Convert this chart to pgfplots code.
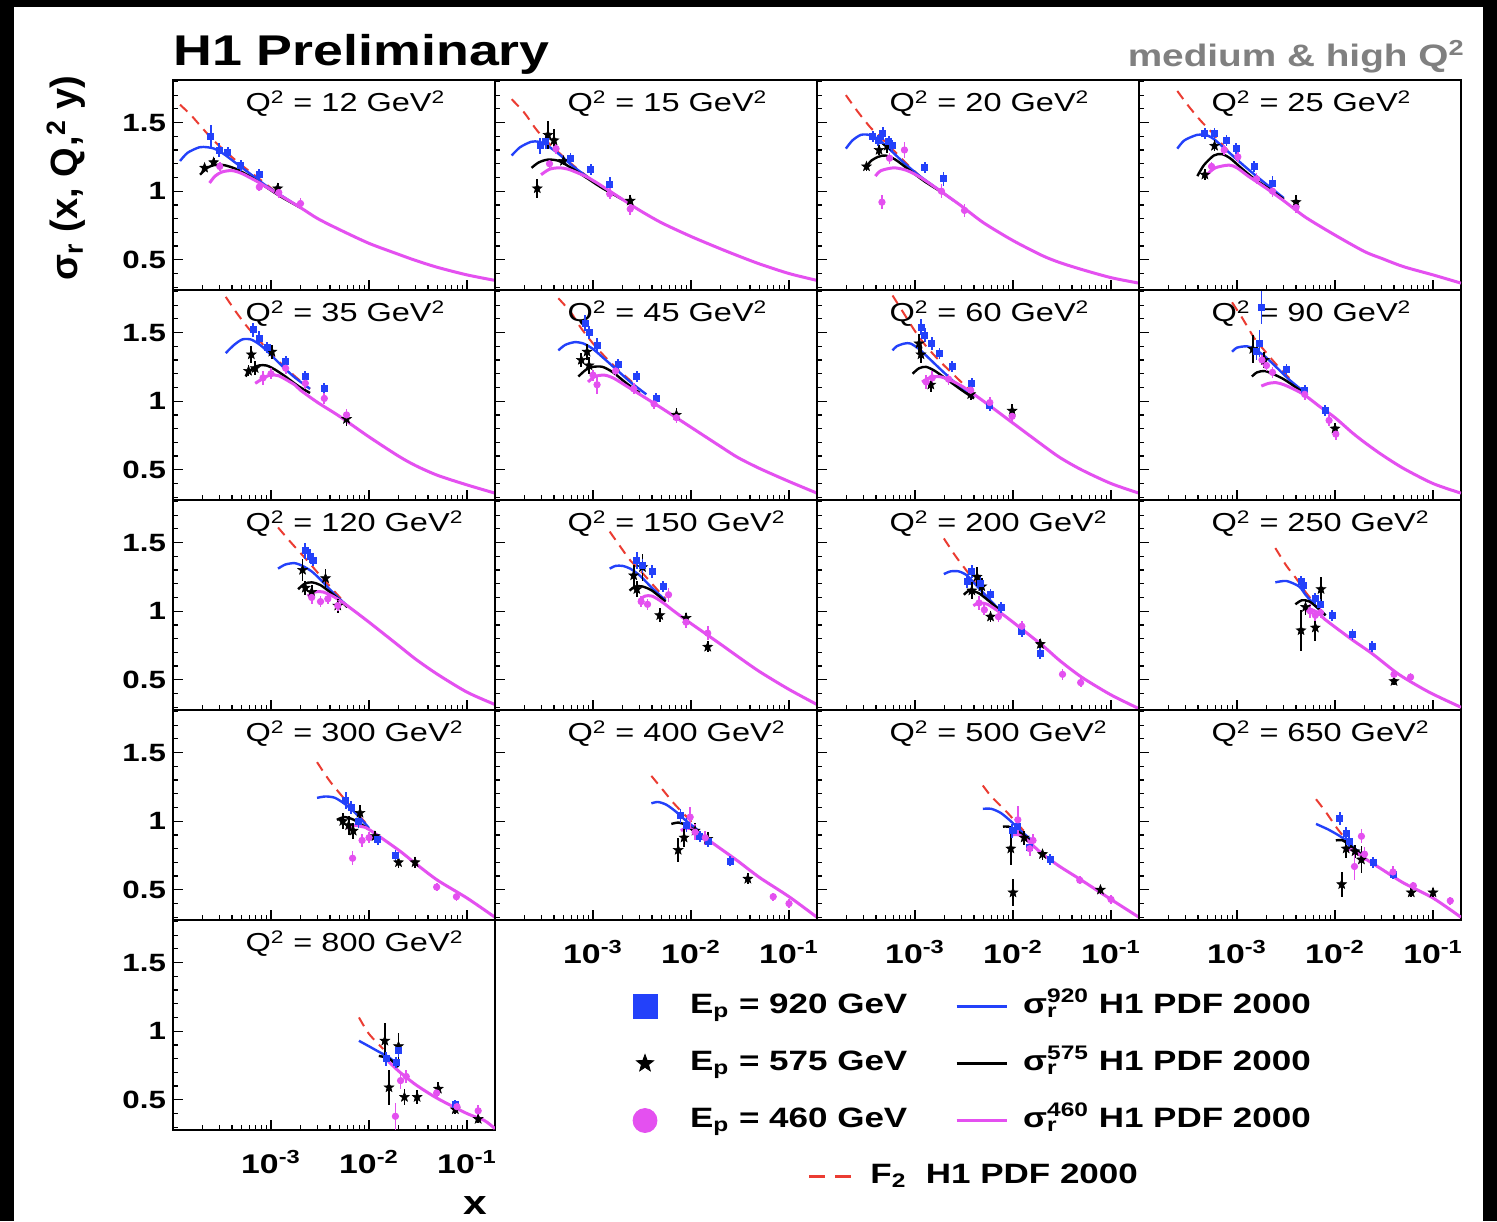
\documentclass[border=0pt]{standalone}
\usepackage{fontspec}
\setmainfont{Liberation Sans}[FakeStretch=1.25]
\newfontfamily\plainsans{Liberation Sans}
\usepackage{pgfplots}
\pgfplotsset{compat=1.18}

\definecolor{myblue}{RGB}{35,65,250}
\definecolor{mymag}{RGB}{228,80,240}
\definecolor{f2red}{RGB}{235,60,50}
\definecolor{titlegrey}{RGB}{128,128,128}

\newcommand{\tlfont}{\bfseries\fontsize{12.5}{14}\selectfont}
\newcommand{\xtlfont}{\bfseries\fontsize{13.5}{15}\selectfont}
\newcommand{\ptfont}{\fontsize{13}{15}\selectfont}
\newcommand{\ptitle}[1]{\node[anchor=base west, font=\ptfont, inner sep=0pt] at (rel axis cs:0.224,0.848) {Q\textsuperscript{2} = #1 GeV\textsuperscript{2}};}

\pgfdeclareplotmark{fstar}{%
  \pgfpathmoveto{\pgfpointpolar{90}{\pgfplotmarksize}}%
  \pgfpathlineto{\pgfpointpolar{126}{0.42\pgfplotmarksize}}%
  \pgfpathlineto{\pgfpointpolar{162}{\pgfplotmarksize}}%
  \pgfpathlineto{\pgfpointpolar{198}{0.42\pgfplotmarksize}}%
  \pgfpathlineto{\pgfpointpolar{234}{\pgfplotmarksize}}%
  \pgfpathlineto{\pgfpointpolar{270}{0.42\pgfplotmarksize}}%
  \pgfpathlineto{\pgfpointpolar{306}{\pgfplotmarksize}}%
  \pgfpathlineto{\pgfpointpolar{342}{0.42\pgfplotmarksize}}%
  \pgfpathlineto{\pgfpointpolar{18}{\pgfplotmarksize}}%
  \pgfpathlineto{\pgfpointpolar{54}{0.42\pgfplotmarksize}}%
  \pgfpathclose
  \pgfusepathqfillstroke
}

\newcommand{\bpanel}[3]{\begin{axis}[
    xmode=log, xmin=1e-4, xmax=0.193, ymin=0.28, ymax=1.81,
    width=161pt, height=105pt, scale only axis, anchor=north west,
    at={(#1)},
    axis line style={line width=1pt},
    tick style={line width=0.6pt, black},
    major tick length=5pt, minor tick length=2.5pt,
    xtick pos=left, ytick pos=left,
    ytick={0.5,1,1.5},
    minor ytick={0.3,0.4,0.6,0.7,0.8,0.9,1.1,1.2,1.3,1.4,1.6,1.7,1.8},
    xtick={1e-4,1e-3,1e-2,1e-1},
    minor xtick={2e-4,3e-4,4e-4,5e-4,6e-4,7e-4,8e-4,9e-4,2e-3,3e-3,4e-3,5e-3,6e-3,7e-3,8e-3,9e-3,0.02,0.03,0.04,0.05,0.06,0.07,0.08,0.09},
    yticklabels={#2},
    xticklabels={#3},
    yticklabel style={font=\tlfont},
    xticklabel style={font=\xtlfont, yshift=-6.5pt},
  ]}

\newcommand{\pF}{\addplot[no markers, smooth, tension=0.45, color=f2red, line width=1pt, dash pattern=on 5pt off 3.5pt] coordinates}
\newcommand{\pB}{\addplot[no markers, smooth, tension=0.45, color=myblue, line width=1.2pt] coordinates}
\newcommand{\pK}{\addplot[no markers, smooth, tension=0.45, color=black, line width=1.2pt] coordinates}
\newcommand{\pM}{\addplot[no markers, smooth, tension=0.45, color=mymag, line width=1.5pt] coordinates}
\newcommand{\dB}{\addplot[only marks, mark=square*, mark size=1.5pt, color=myblue,
    error bars/y dir=both, error bars/y explicit, error bars/error mark=none,
    error bars/error bar style={line width=0.9pt, myblue}] coordinates}
\newcommand{\dK}{\addplot[only marks, mark=fstar, mark size=2.5pt, color=black, mark options={line width=0.3pt},
    error bars/y dir=both, error bars/y explicit, error bars/error mark=none,
    error bars/error bar style={line width=0.9pt, black}] coordinates}
\newcommand{\dM}{\addplot[only marks, mark=*, mark size=1.6pt, color=mymag,
    error bars/y dir=both, error bars/y explicit, error bars/error mark=none,
    error bars/error bar style={line width=0.9pt, mymag}] coordinates}

\begin{document}
\begin{tikzpicture}
\fill[black] (0pt,0pt) rectangle (748.5pt,-610.5pt);
\fill[white] (7pt,-3.5pt) rectangle (741.5pt,-610.5pt);

\node[anchor=base west, font=\bfseries\fontsize{21.5}{24}\selectfont, inner sep=0pt] at (86.5pt,-32.5pt) {H1 Preliminary};
\node[anchor=base east, text=titlegrey, font=\bfseries\fontsize{15.5}{18}\selectfont, inner sep=0pt] at (732.5pt,-33pt) {medium \& high Q\textsuperscript{2}};
\node[rotate=90, font=\plainsans\bfseries\fontsize{19}{21}\selectfont, inner sep=0pt] at (33pt,-89pt) {σ\textsubscript{r} (x, Q\kern1pt,\textsuperscript{2} y)};
\node[anchor=base, font=\bfseries\fontsize{17}{18}\selectfont, inner sep=0pt] at (237.5pt,-607pt) {x};

% ---------------- Row 1 ----------------
\bpanel{86.5pt,-40pt}{0.5,1,1.5}{,,,}
\pF {(1.18e-4,1.63) (1.5e-4,1.56) (1.78e-4,1.50) (2.51e-4,1.38) (3.55e-4,1.28) (5.0e-4,1.19) (7.9e-4,1.08) (1.1e-3,1.0)};
\pB {(1.18e-4,1.22) (1.41e-4,1.28) (1.86e-4,1.32) (2.24e-4,1.32) (2.63e-4,1.31) (3.31e-4,1.27) (4.47e-4,1.20) (6.31e-4,1.12) (8.9e-4,1.04) (1.26e-3,0.97) (2e-3,0.88)};
\pK {(1.89e-4,1.12) (2.24e-4,1.17) (2.63e-4,1.19) (3.31e-4,1.19) (4.47e-4,1.16) (6.31e-4,1.10) (8.9e-4,1.03) (1.26e-3,0.96) (2e-3,0.88)};
\pM {(2.36e-4,1.06) (2.69e-4,1.11) (3.16e-4,1.14) (3.98e-4,1.15) (5.0e-4,1.13) (7.24e-4,1.07) (1e-3,1.01) (2e-3,0.88) (3e-3,0.80) (5e-3,0.72) (0.01,0.62) (0.02,0.54) (0.03,0.495) (0.05,0.445) (0.1,0.39) (0.193,0.35)};
\ptitle{12}
\dK {(2.1e-4,1.17) +- (0,0.03) (2.6e-4,1.21) +- (0,0.03) (1.17e-3,1.02) +- (0,0.04)};
\dB {(2.43e-4,1.40) +- (0,0.08) (2.95e-4,1.30) +- (0,0.05) (3.63e-4,1.28) +- (0,0.04) (4.9e-4,1.19) +- (0,0.04) (7.6e-4,1.12) +- (0,0.04)};
\dM {(3.0e-4,1.18) +- (0,0.03) (7.6e-4,1.03) +- (0,0.03) (1.2e-3,0.99) +- (0,0.04) (2.0e-3,0.91) +- (0,0.04)};
\end{axis}

\bpanel{247.5pt,-40pt}{,,}{,,,}
\pF {(1.48e-4,1.67) (2.0e-4,1.57) (2.57e-4,1.46) (3.2e-4,1.38) (4.2e-4,1.30) (6e-4,1.20) (9e-4,1.10)};
\pB {(1.48e-4,1.26) (1.8e-4,1.32) (2.34e-4,1.36) (2.8e-4,1.36) (3.3e-4,1.34) (4.5e-4,1.27) (6.3e-4,1.18) (8.9e-4,1.10) (1.26e-3,1.03) (2e-3,0.94)};
\pK {(2.36e-4,1.17) (2.8e-4,1.21) (3.47e-4,1.23) (4.5e-4,1.22) (6.3e-4,1.16) (8.9e-4,1.09) (1.26e-3,1.02) (2e-3,0.94)};
\pM {(2.95e-4,1.12) (3.6e-4,1.16) (4.47e-4,1.17) (5.6e-4,1.16) (8.3e-4,1.11) (1.1e-3,1.06) (2e-3,0.94) (3e-3,0.86) (5e-3,0.77) (0.01,0.67) (0.02,0.58) (0.03,0.53) (0.05,0.47) (0.1,0.40) (0.193,0.35)};
\ptitle{15}
\dK {(2.7e-4,1.02) +- (0,0.07) (3.47e-4,1.41) +- (0,0.10) (4.0e-4,1.37) +- (0,0.08) (5.0e-4,1.22) +- (0,0.03) (2.4e-3,0.93) +- (0,0.04)};
\dB {(2.9e-4,1.33) +- (0,0.06) (3.3e-4,1.36) +- (0,0.05) (5.9e-4,1.24) +- (0,0.04) (9.5e-4,1.16) +- (0,0.04) (1.48e-3,1.05) +- (0,0.05)};
\dM {(3.6e-4,1.20) +- (0,0.03) (4.2e-4,1.31) +- (0,0.04) (1.48e-3,0.98) +- (0,0.04) (2.4e-3,0.87) +- (0,0.04)};
\end{axis}

\bpanel{408.5pt,-40pt}{,,}{,,,}
\pF {(1.97e-4,1.70) (2.6e-4,1.58) (3.55e-4,1.46) (4.5e-4,1.39) (6e-4,1.30) (8.5e-4,1.19) (1.2e-3,1.09)};
\pB {(1.97e-4,1.31) (2.3e-4,1.37) (2.8e-4,1.41) (3.4e-4,1.41) (4.2e-4,1.38) (5.6e-4,1.30) (7.9e-4,1.20) (1.12e-3,1.11) (1.6e-3,1.03) (2.5e-3,0.93)};
\pK {(3.15e-4,1.17) (3.55e-4,1.22) (4.2e-4,1.25) (5.0e-4,1.26) (6.3e-4,1.23) (8.9e-4,1.15) (1.26e-3,1.07) (2e-3,0.98)};
\pM {(3.94e-4,1.11) (4.5e-4,1.15) (6.0e-4,1.17) (7.5e-4,1.16) (9e-4,1.14) (1.2e-3,1.09) (2e-3,0.98) (3e-3,0.89) (5e-3,0.77) (0.01,0.64) (0.02,0.53) (0.03,0.48) (0.05,0.43) (0.1,0.37) (0.193,0.33)};
\ptitle{20}
\dK {(3.2e-4,1.18) +- (0,0.03) (4.3e-4,1.30) +- (0,0.04) (5.2e-4,1.33) +- (0,0.05)};
\dB {(3.7e-4,1.40) +- (0,0.04) (4.2e-4,1.37) +- (0,0.04) (4.7e-4,1.42) +- (0,0.05) (5.4e-4,1.36) +- (0,0.04) (5.9e-4,1.33) +- (0,0.04) (1.26e-3,1.17) +- (0,0.04) (1.95e-3,1.09) +- (0,0.05)};
\dM {(4.6e-4,0.92) +- (0,0.05) (5.5e-4,1.24) +- (0,0.04) (7.8e-4,1.30) +- (0,0.06) (1.86e-3,1.00) +- (0,0.05) (3.2e-3,0.86) +- (0,0.05)};
\end{axis}

\bpanel{569.5pt,-40pt}{,,}{,,,}
\pF {(2.46e-4,1.73) (3.2e-4,1.62) (4.3e-4,1.51) (5.5e-4,1.43) (7.5e-4,1.32) (1e-3,1.23)};
\pB {(2.46e-4,1.31) (2.9e-4,1.37) (3.9e-4,1.41) (4.8e-4,1.41) (5.8e-4,1.38) (7.5e-4,1.31) (1e-3,1.23) (1.4e-3,1.14) (2e-3,1.05) (3e-3,0.95)};
\pK {(3.94e-4,1.11) (4.6e-4,1.19) (5.8e-4,1.26) (7e-4,1.27) (8.5e-4,1.24) (1.1e-3,1.17) (1.5e-3,1.09) (2.2e-3,1.01) (3e-3,0.94)};
\pM {(4.92e-4,1.12) (6e-4,1.17) (8.3e-4,1.19) (1e-3,1.17) (1.3e-3,1.11) (2e-3,1.02) (3e-3,0.93) (5e-3,0.81) (0.01,0.68) (0.02,0.56) (0.03,0.51) (0.05,0.45) (0.1,0.39) (0.193,0.33)};
\ptitle{25}
\dK {(4.7e-4,1.12) +- (0,0.04) (5.9e-4,1.33) +- (0,0.04) (4e-3,0.92) +- (0,0.05)};
\dB {(4.7e-4,1.42) +- (0,0.04) (5.9e-4,1.42) +- (0,0.04) (7.8e-4,1.37) +- (0,0.04) (9.8e-4,1.31) +- (0,0.04) (1.5e-3,1.18) +- (0,0.04) (2.3e-3,1.06) +- (0,0.05)};
\dM {(5.5e-4,1.18) +- (0,0.03) (7.4e-4,1.30) +- (0,0.04) (1.02e-3,1.25) +- (0,0.04) (1.58e-3,1.09) +- (0,0.04) (2.3e-3,1.00) +- (0,0.04) (4e-3,0.88) +- (0,0.04)};
\end{axis}

% ---------------- Row 2 ----------------
\bpanel{86.5pt,-145pt}{0.5,1,1.5}{,,,}
\pF {(3.45e-4,1.76) (4.5e-4,1.64) (5.9e-4,1.53) (7.5e-4,1.45) (9e-4,1.38) (1.2e-3,1.29) (1.7e-3,1.19) (2.5e-3,1.09)};
\pB {(3.45e-4,1.35) (4.2e-4,1.41) (5.1e-4,1.45) (6.2e-4,1.45) (7.4e-4,1.42) (9e-4,1.37) (1.2e-3,1.28) (1.7e-3,1.18) (2.5e-3,1.09)};
\pK {(5.5e-4,1.18) (6.3e-4,1.23) (7.5e-4,1.26) (9e-4,1.26) (1.1e-3,1.23) (1.4e-3,1.18) (1.9e-3,1.11) (2.5e-3,1.06)};
\pM {(6.9e-4,1.13) (8.5e-4,1.17) (9.8e-4,1.19) (1.2e-3,1.185) (1.74e-3,1.12) (2e-3,1.08) (3e-3,0.99) (5e-3,0.89) (0.01,0.74) (0.02,0.60) (0.03,0.53) (0.05,0.46) (0.1,0.39) (0.193,0.33)};
\ptitle{35}
\dK {(5.9e-4,1.22) +- (0,0.04) (6.3e-4,1.34) +- (0,0.06) (6.9e-4,1.24) +- (0,0.05) (1.02e-3,1.36) +- (0,0.05) (5.9e-3,0.87) +- (0,0.05)};
\dB {(6.6e-4,1.52) +- (0,0.05) (7.6e-4,1.46) +- (0,0.05) (9.1e-4,1.39) +- (0,0.04) (1.41e-3,1.29) +- (0,0.04) (2.24e-3,1.18) +- (0,0.04) (3.5e-3,1.09) +- (0,0.04)};
\dM {(8.3e-4,1.17) +- (0,0.05) (1.0e-3,1.20) +- (0,0.04) (1.41e-3,1.24) +- (0,0.04) (2.24e-3,1.13) +- (0,0.04) (3.5e-3,1.02) +- (0,0.04) (5.9e-3,0.90) +- (0,0.04)};
\end{axis}

\bpanel{247.5pt,-145pt}{,,}{,,,}
\pF {(4.43e-4,1.75) (5.9e-4,1.65) (7.6e-4,1.53) (1e-3,1.42) (1.3e-3,1.33) (1.8e-3,1.23) (2.5e-3,1.14)};
\pB {(4.43e-4,1.37) (5.2e-4,1.41) (6.5e-4,1.43) (8e-4,1.42) (1e-3,1.38) (1.3e-3,1.31) (1.8e-3,1.22) (2.5e-3,1.13) (3.5e-3,1.05)};
\pK {(7.1e-4,1.18) (8.5e-4,1.23) (1e-3,1.25) (1.25e-3,1.25) (1.6e-3,1.21) (2.2e-3,1.13) (3e-3,1.06)};
\pM {(8.9e-4,1.14) (1.05e-3,1.18) (1.3e-3,1.19) (1.6e-3,1.17) (2.2e-3,1.11) (3e-3,1.05) (5e-3,0.95) (0.01,0.81) (0.02,0.67) (0.03,0.59) (0.05,0.51) (0.1,0.415) (0.193,0.33)};
\ptitle{45}
\dK {(7.6e-4,1.30) +- (0,0.05) (8.7e-4,1.36) +- (0,0.06) (9.1e-4,1.26) +- (0,0.06) (7.1e-3,0.90) +- (0,0.05)};
\dB {(8.3e-4,1.57) +- (0,0.06) (9.1e-4,1.50) +- (0,0.05) (1.1e-3,1.41) +- (0,0.05) (1.8e-3,1.27) +- (0,0.04) (2.8e-3,1.18) +- (0,0.04) (4.4e-3,1.02) +- (0,0.04)};
\dM {(1.0e-3,1.19) +- (0,0.04) (1.1e-3,1.12) +- (0,0.07) (1.7e-3,1.22) +- (0,0.04) (2.6e-3,1.09) +- (0,0.04) (4.2e-3,0.98) +- (0,0.04) (7.1e-3,0.88) +- (0,0.04)};
\end{axis}

\bpanel{408.5pt,-145pt}{,,}{,,,}
\pF {(5.9e-4,1.77) (8e-4,1.62) (1e-3,1.51) (1.3e-3,1.40) (1.8e-3,1.29) (2.5e-3,1.19) (3.5e-3,1.09)};
\pB {(5.9e-4,1.37) (6.5e-4,1.40) (7.8e-4,1.42) (9e-4,1.42) (1.1e-3,1.38) (1.4e-3,1.31) (1.9e-3,1.22) (2.8e-3,1.11) (4e-3,1.03)};
\pK {(9.45e-4,1.20) (1.1e-3,1.24) (1.3e-3,1.25) (1.6e-3,1.22) (2.1e-3,1.16) (3e-3,1.08) (4e-3,1.02)};
\pM {(1.18e-3,1.14) (1.4e-3,1.17) (1.7e-3,1.18) (2.1e-3,1.165) (3e-3,1.11) (5e-3,1.00) (0.01,0.84) (0.02,0.68) (0.03,0.59) (0.05,0.50) (0.1,0.40) (0.193,0.33)};
\ptitle{60}
\dK {(1.1e-3,1.42) +- (0,0.07) (1.15e-3,1.34) +- (0,0.06) (1.45e-3,1.12) +- (0,0.05) (3.7e-3,1.05) +- (0,0.04) (9.8e-3,0.93) +- (0,0.05)};
\dB {(1.15e-3,1.54) +- (0,0.06) (1.26e-3,1.48) +- (0,0.05) (1.48e-3,1.42) +- (0,0.05) (1.78e-3,1.35) +- (0,0.04) (2.4e-3,1.25) +- (0,0.04) (3.8e-3,1.13) +- (0,0.04) (5.8e-3,0.97) +- (0,0.04)};
\dM {(1.3e-3,1.14) +- (0,0.05) (1.5e-3,1.17) +- (0,0.05) (2.2e-3,1.16) +- (0,0.04) (3.7e-3,1.08) +- (0,0.04) (5.8e-3,0.99) +- (0,0.04) (9.8e-3,0.89) +- (0,0.05)};
\end{axis}

\bpanel{569.5pt,-145pt}{,,}{,,,}
\pF {(8.9e-4,1.72) (1.1e-3,1.62) (1.26e-3,1.55) (1.5e-3,1.46) (1.9e-3,1.37) (2.5e-3,1.27) (3.5e-3,1.16)};
\pB {(8.9e-4,1.36) (1.0e-3,1.39) (1.26e-3,1.40) (1.5e-3,1.38) (1.9e-3,1.33) (2.5e-3,1.25) (3.5e-3,1.15) (5e-3,1.06)};
\pK {(1.42e-3,1.18) (1.6e-3,1.21) (1.9e-3,1.22) (2.3e-3,1.20) (3e-3,1.16) (4e-3,1.10) (5e-3,1.05)};
\pM {(1.77e-3,1.11) (2.1e-3,1.13) (2.5e-3,1.135) (3e-3,1.12) (4e-3,1.08) (5e-3,1.04) (7e-3,0.96) (0.01,0.88) (0.015,0.77) (0.02,0.70) (0.03,0.61) (0.05,0.51) (0.1,0.40) (0.193,0.33)};
\ptitle{90}
\dK {(1.45e-3,1.38) +- (0,0.10) (1.9e-3,1.30) +- (0,0.06) (1.0e-2,0.80) +- (0,0.04)};
\dB {(1.58e-3,1.36) +- (0,0.06) (1.7e-3,1.42) +- (0,0.10) (1.78e-3,1.68) +- (0,0.12) (3.2e-3,1.23) +- (0,0.04) (4.9e-3,1.08) +- (0,0.04) (7.9e-3,0.93) +- (0,0.04)};
\dM {(1.8e-3,1.30) +- (0,0.04) (2.0e-3,1.26) +- (0,0.04) (2.3e-3,1.21) +- (0,0.04) (4.9e-3,1.05) +- (0,0.04) (8.7e-3,0.86) +- (0,0.04) (1.02e-2,0.76) +- (0,0.04)};
\end{axis}

% ---------------- Row 3 ----------------
\bpanel{86.5pt,-250pt}{0.5,1,1.5}{,,,}
\pF {(1.18e-3,1.61) (1.6e-3,1.50) (2.34e-3,1.37) (3e-3,1.28) (4e-3,1.18) (5.5e-3,1.07)};
\pB {(1.18e-3,1.31) (1.4e-3,1.34) (1.74e-3,1.35) (2.1e-3,1.33) (2.6e-3,1.29) (3.2e-3,1.23) (4.5e-3,1.12) (6e-3,1.04)};
\pK {(1.89e-3,1.16) (2.2e-3,1.20) (2.6e-3,1.21) (3.2e-3,1.19) (4.5e-3,1.11) (6e-3,1.03)};
\pM {(2.36e-3,1.11) (2.8e-3,1.14) (3.4e-3,1.14) (4.5e-3,1.10) (6e-3,1.04) (0.01,0.92) (0.02,0.75) (0.03,0.65) (0.05,0.54) (0.1,0.41) (0.193,0.32)};
\ptitle{120}
\dK {(2.1e-3,1.30) +- (0,0.08) (2.24e-3,1.17) +- (0,0.05) (2.6e-3,1.14) +- (0,0.05) (3.6e-3,1.24) +- (0,0.07) (4.8e-3,1.04) +- (0,0.05)};
\dB {(2.24e-3,1.44) +- (0,0.06) (2.5e-3,1.40) +- (0,0.05) (2.7e-3,1.37) +- (0,0.04)};
\dM {(2.6e-3,1.10) +- (0,0.05) (3.2e-3,1.07) +- (0,0.04) (3.8e-3,1.09) +- (0,0.04) (4.8e-3,1.04) +- (0,0.04)};
\end{axis}

\bpanel{247.5pt,-250pt}{,,}{,,,}
\pF {(1.48e-3,1.58) (1.9e-3,1.47) (2.4e-3,1.37) (3e-3,1.30) (4e-3,1.20) (5.5e-3,1.09)};
\pB {(1.48e-3,1.31) (1.7e-3,1.33) (2.0e-3,1.33) (2.4e-3,1.31) (3e-3,1.26) (4e-3,1.17) (5.5e-3,1.08)};
\pK {(2.36e-3,1.15) (2.7e-3,1.18) (3.2e-3,1.18) (4e-3,1.15) (5.5e-3,1.07)};
\pM {(2.95e-3,1.08) (3.4e-3,1.11) (4e-3,1.11) (5e-3,1.07) (7e-3,0.99) (0.01,0.91) (0.02,0.76) (0.03,0.67) (0.05,0.56) (0.1,0.43) (0.193,0.32)};
\ptitle{150}
\dK {(2.6e-3,1.26) +- (0,0.08) (2.8e-3,1.16) +- (0,0.06) (3.2e-3,1.32) +- (0,0.10) (4.8e-3,0.97) +- (0,0.05) (8.9e-3,0.95) +- (0,0.04) (1.48e-2,0.74) +- (0,0.04)};
\dB {(2.8e-3,1.37) +- (0,0.06) (3.2e-3,1.33) +- (0,0.05) (4e-3,1.29) +- (0,0.05) (5.2e-3,1.18) +- (0,0.04)};
\dM {(3.1e-3,1.07) +- (0,0.04) (3.6e-3,1.05) +- (0,0.04) (5.9e-3,1.12) +- (0,0.05) (8.9e-3,0.92) +- (0,0.04) (1.48e-2,0.84) +- (0,0.05)};
\end{axis}

\bpanel{408.5pt,-250pt}{,,}{,,,}
\pF {(1.97e-3,1.53) (2.6e-3,1.40) (3.4e-3,1.29) (4.2e-3,1.20) (5.5e-3,1.10) (7.5e-3,1.00)};
\pB {(1.97e-3,1.27) (2.3e-3,1.29) (2.8e-3,1.29) (3.4e-3,1.26) (4.2e-3,1.19) (5.5e-3,1.10) (7.5e-3,1.00)};
\pK {(3.15e-3,1.12) (3.6e-3,1.15) (4.5e-3,1.13) (6e-3,1.06) (7.5e-3,1.00)};
\pM {(3.94e-3,1.04) (4.5e-3,1.06) (5.5e-3,1.05) (7.4e-3,0.99) (0.01,0.92) (0.02,0.75) (0.03,0.64) (0.05,0.52) (0.1,0.39) (0.193,0.29)};
\ptitle{200}
\dK {(3.8e-3,1.15) +- (0,0.06) (4.3e-3,1.25) +- (0,0.07) (4.8e-3,1.18) +- (0,0.06) (5.9e-3,0.96) +- (0,0.04) (1.9e-2,0.76) +- (0,0.04)};
\dB {(3.4e-3,1.22) +- (0,0.05) (3.8e-3,1.29) +- (0,0.05) (4.6e-3,1.20) +- (0,0.05) (5.9e-3,1.12) +- (0,0.04) (7.6e-3,1.03) +- (0,0.04) (1.23e-2,0.85) +- (0,0.04) (1.9e-2,0.69) +- (0,0.04)};
\dM {(4.5e-3,1.06) +- (0,0.05) (5.1e-3,1.01) +- (0,0.04) (7.1e-3,0.96) +- (0,0.04) (1.23e-2,0.89) +- (0,0.04) (3.2e-2,0.54) +- (0,0.04) (4.9e-2,0.48) +- (0,0.03)};
\end{axis}

\bpanel{569.5pt,-250pt}{,,}{,,,}
\pF {(2.46e-3,1.46) (3.2e-3,1.33) (4.0e-3,1.24) (5e-3,1.14) (6.3e-3,1.05)};
\pB {(2.46e-3,1.21) (3.2e-3,1.22) (4.3e-3,1.18) (5e-3,1.12) (6.3e-3,1.04) (8e-3,0.97)};
\pK {(3.94e-3,1.05) (4.6e-3,1.08) (5.5e-3,1.07) (7e-3,1.01) (8e-3,0.97)};
\pM {(4.92e-3,1.00) (5.8e-3,1.01) (7e-3,0.98) (7.9e-3,0.94) (0.0151,0.79) (0.024,0.69) (0.0447,0.54) (0.0912,0.41) (0.193,0.30)};
\ptitle{250}
\dK {(4.5e-3,0.86) +- (0,0.15) (5.0e-3,1.03) +- (0,0.06) (6.3e-3,0.88) +- (0,0.10) (7.2e-3,1.16) +- (0,0.09) (4.0e-2,0.49) +- (0,0.03)};
\dB {(4.5e-3,1.22) +- (0,0.04) (4.8e-3,1.19) +- (0,0.04) (6.3e-3,1.09) +- (0,0.04) (7.1e-3,1.05) +- (0,0.04) (9.3e-3,0.97) +- (0,0.04) (1.51e-2,0.83) +- (0,0.04) (2.4e-2,0.74) +- (0,0.04)};
\dM {(5.6e-3,1.00) +- (0,0.05) (6.3e-3,0.97) +- (0,0.04) (7.1e-3,0.99) +- (0,0.04) (4.0e-2,0.54) +- (0,0.03) (5.9e-2,0.52) +- (0,0.03)};
\end{axis}

% ---------------- Row 4 ----------------
\bpanel{86.5pt,-355pt}{0.5,1,1.5}{,,,}
\pF {(2.95e-3,1.43) (4e-3,1.29) (5.8e-3,1.15) (7.5e-3,1.06) (1e-2,0.96)};
\pB {(2.95e-3,1.17) (3.6e-3,1.18) (4.5e-3,1.17) (5.8e-3,1.12) (7.5e-3,1.05) (1e-2,0.95)};
\pK {(4.7e-3,1.01) (5.6e-3,1.03) (7e-3,1.01) (1e-2,0.94)};
\pM {(5.9e-3,0.95) (7e-3,0.97) (8.5e-3,0.96) (0.01,0.94) (0.02,0.79) (0.03,0.69) (0.05,0.57) (0.1,0.44) (0.193,0.30)};
\ptitle{300}
\dK {(5.4e-3,1.00) +- (0,0.06) (6.2e-3,0.97) +- (0,0.07) (6.9e-3,0.93) +- (0,0.06) (8.1e-3,1.06) +- (0,0.06) (1.15e-2,0.89) +- (0,0.04) (2.0e-2,0.70) +- (0,0.04) (2.95e-2,0.70) +- (0,0.04)};
\dB {(5.8e-3,1.15) +- (0,0.06) (6.6e-3,1.10) +- (0,0.05) (7.8e-3,1.00) +- (0,0.05) (1.23e-2,0.87) +- (0,0.04) (1.86e-2,0.75) +- (0,0.04)};
\dM {(6.8e-3,0.73) +- (0,0.05) (8.5e-3,0.86) +- (0,0.05) (1.0e-2,0.88) +- (0,0.04) (4.9e-2,0.52) +- (0,0.03) (7.8e-2,0.45) +- (0,0.03)};
\end{axis}

\bpanel{247.5pt,-355pt}{,,}{,10\textsuperscript{-3},10\textsuperscript{-2},10\textsuperscript{-1}}
\pF {(3.94e-3,1.33) (5e-3,1.24) (6.5e-3,1.14) (8e-3,1.07) (1.1e-2,0.97)};
\pB {(3.94e-3,1.13) (4.6e-3,1.14) (5.6e-3,1.12) (7e-3,1.07) (9e-3,1.00) (1.2e-2,0.93)};
\pK {(6.3e-3,0.98) (7.5e-3,0.99) (9e-3,0.97) (1.2e-2,0.92)};
\pM {(7.9e-3,0.93) (9e-3,0.95) (0.011,0.93) (0.02,0.80) (0.03,0.71) (0.05,0.59) (0.1,0.45) (0.193,0.30)};
\ptitle{400}
\dK {(7.4e-3,0.79) +- (0,0.09) (8.5e-3,0.88) +- (0,0.07) (1.1e-2,0.93) +- (0,0.06) (1.48e-2,0.87) +- (0,0.05) (3.8e-2,0.58) +- (0,0.04)};
\dB {(7.8e-3,1.04) +- (0,0.05) (9e-3,0.97) +- (0,0.05) (1.23e-2,0.89) +- (0,0.04) (1.5e-2,0.85) +- (0,0.04) (2.5e-2,0.71) +- (0,0.04)};
\dM {(9.8e-3,1.03) +- (0,0.07) (1.1e-2,0.92) +- (0,0.06) (1.4e-2,0.88) +- (0,0.05) (6.9e-2,0.45) +- (0,0.03) (0.1,0.40) +- (0,0.03)};
\end{axis}

\bpanel{408.5pt,-355pt}{,,}{,10\textsuperscript{-3},10\textsuperscript{-2},10\textsuperscript{-1}}
\pF {(4.92e-3,1.26) (6e-3,1.18) (8.3e-3,1.08) (1.05e-2,1.00) (1.4e-2,0.90)};
\pB {(4.92e-3,1.09) (6e-3,1.09) (7.5e-3,1.06) (9.5e-3,1.00) (1.2e-2,0.93) (1.5e-2,0.87)};
\pK {(7.9e-3,0.96) (9e-3,0.96) (1.1e-2,0.93) (1.5e-2,0.86)};
\pM {(9.8e-3,0.90) (1.15e-2,0.90) (1.4e-2,0.86) (0.02,0.76) (0.03,0.67) (0.05,0.57) (0.1,0.43) (0.193,0.30)};
\ptitle{500}
\dK {(9.5e-3,0.80) +- (0,0.12) (1.0e-2,0.48) +- (0,0.10) (1.3e-2,0.88) +- (0,0.05) (2.0e-2,0.76) +- (0,0.04) (7.8e-2,0.50) +- (0,0.03)};
\dB {(9.8e-3,0.93) +- (0,0.05) (1.1e-2,0.96) +- (0,0.05) (1.48e-2,0.81) +- (0,0.04) (2.4e-2,0.72) +- (0,0.04)};
\dM {(1.12e-2,1.01) +- (0,0.10) (1.48e-2,0.80) +- (0,0.05) (1.6e-2,0.86) +- (0,0.05) (4.8e-2,0.57) +- (0,0.03) (0.1,0.43) +- (0,0.03)};
\end{axis}

\bpanel{569.5pt,-355pt}{,,}{,10\textsuperscript{-3},10\textsuperscript{-2},10\textsuperscript{-1}}
\pF {(6.4e-3,1.16) (8e-3,1.07) (1.07e-2,0.94) (1.4e-2,0.84)};
\pB {(6.4e-3,0.98) (8.5e-3,0.94) (1.07e-2,0.90) (1.3e-2,0.86) (1.6e-2,0.80) (2e-2,0.74)};
\pK {(1.02e-2,0.86) (1.2e-2,0.86) (1.5e-2,0.81) (2e-2,0.74)};
\pM {(1.28e-2,0.80) (1.5e-2,0.79) (0.02,0.73) (0.03,0.65) (0.05,0.55) (0.1,0.44) (0.193,0.30)};
\ptitle{650}
\dK {(1.17e-2,0.54) +- (0,0.09) (1.3e-2,0.80) +- (0,0.07) (1.6e-2,0.78) +- (0,0.05) (1.86e-2,0.72) +- (0,0.10) (6.0e-2,0.48) +- (0,0.03) (0.1,0.48) +- (0,0.03)};
\dB {(1.12e-2,1.02) +- (0,0.05) (1.3e-2,0.91) +- (0,0.05) (1.4e-2,0.85) +- (0,0.05) (2.45e-2,0.70) +- (0,0.04) (3.9e-2,0.61) +- (0,0.03)};
\dM {(1.58e-2,0.67) +- (0,0.10) (1.86e-2,0.89) +- (0,0.05) (2.0e-2,0.76) +- (0,0.05) (3.9e-2,0.63) +- (0,0.04) (6.3e-2,0.53) +- (0,0.03) (0.15,0.42) +- (0,0.03)};
\end{axis}

% ---------------- Row 5 ----------------
\bpanel{86.5pt,-460pt}{0.5,1,1.5}{,10\textsuperscript{-3},10\textsuperscript{-2},10\textsuperscript{-1}}
\pF {(7.9e-3,1.10) (1.0e-2,0.98) (1.4e-2,0.87)};
\pB {(7.9e-3,0.93) (1.0e-2,0.89) (1.26e-2,0.85) (1.6e-2,0.81) (2e-2,0.75)};
\pK {(1.26e-2,0.82) (1.6e-2,0.80) (2e-2,0.74)};
\pM {(1.58e-2,0.78) (0.02,0.71) (0.03,0.61) (0.05,0.51) (0.1,0.40) (0.15,0.35) (0.193,0.29)};
\ptitle{800}
\dK {(1.45e-2,0.93) +- (0,0.13) (1.6e-2,0.59) +- (0,0.13) (2.0e-2,0.89) +- (0,0.10) (2.3e-2,0.52) +- (0,0.06) (3.1e-2,0.52) +- (0,0.05) (5.1e-2,0.58) +- (0,0.05) (7.6e-2,0.43) +- (0,0.03) (0.13,0.36) +- (0,0.03)};
\dB {(1.5e-2,0.80) +- (0,0.05) (1.9e-2,0.77) +- (0,0.04) (2.0e-2,0.86) +- (0,0.05) (7.6e-2,0.47) +- (0,0.03)};
\dM {(1.86e-2,0.38) +- (0,0.10) (2.1e-2,0.64) +- (0,0.06) (2.4e-2,0.67) +- (0,0.05) (4.9e-2,0.55) +- (0,0.04) (7.9e-2,0.45) +- (0,0.03) (0.13,0.42) +- (0,0.04)};
\end{axis}

% ---------------- Legends ----------------
\begin{axis}[hide axis, scale only axis, width=1pt, height=1pt, xmin=0, xmax=1, ymin=0, ymax=1,
  anchor=north west, at={(316.5pt,-496.5pt)}, legend cell align=left,
  legend style={draw=none, fill=none, at={(0,1)}, anchor=north west, inner sep=0pt, outer sep=0pt,
    row sep=15pt, font=\bfseries\fontsize{14}{16}\selectfont,
    nodes={inner sep=0pt, text height=10pt, text depth=3.5pt},
    /tikz/every odd column/.append style={column sep=16.5pt}},
  legend image code/.code={\draw[#1] plot coordinates {(6pt,0pt)};}]
\addlegendimage{only marks, mark=square*, mark size=6pt, color=myblue}
\addlegendentry{E\textsubscript{p} = 920 GeV}
\addlegendimage{only marks, mark=fstar, mark size=4.5pt, color=black}
\addlegendentry{E\textsubscript{p} = 575 GeV}
\addlegendimage{only marks, mark=*, mark size=6pt, color=mymag}
\addlegendentry{E\textsubscript{p} = 460 GeV}
\end{axis}

\begin{axis}[hide axis, scale only axis, width=1pt, height=1pt, xmin=0, xmax=1, ymin=0, ymax=1,
  anchor=north west, at={(477.5pt,-496.5pt)}, legend cell align=left,
  legend style={draw=none, fill=none, at={(0,1)}, anchor=north west, inner sep=0pt, outer sep=0pt,
    row sep=15pt, font=\bfseries\fontsize{14}{16}\selectfont,
    nodes={inner sep=0pt, text height=10pt, text depth=3.5pt},
    /tikz/every odd column/.append style={column sep=7.5pt}},
  legend image code/.code={\draw[#1] (0pt,0pt) -- (25pt,0pt);}]
\addlegendimage{color=myblue, line width=1.2pt}
\addlegendentry{σ\makebox[0pt][l]{\textsubscript{r}}\textsuperscript{920} H1 PDF 2000}
\addlegendimage{color=black, line width=1.2pt}
\addlegendentry{σ\makebox[0pt][l]{\textsubscript{r}}\textsuperscript{575} H1 PDF 2000}
\addlegendimage{color=mymag, line width=1.6pt}
\addlegendentry{σ\makebox[0pt][l]{\textsubscript{r}}\textsuperscript{460} H1 PDF 2000}
\end{axis}

\begin{axis}[hide axis, scale only axis, width=1pt, height=1pt, xmin=0, xmax=1, ymin=0, ymax=1,
  anchor=north west, at={(404pt,-581.5pt)}, legend cell align=left,
  legend style={draw=none, fill=none, at={(0,1)}, anchor=north west, inner sep=0pt, outer sep=0pt,
    font=\bfseries\fontsize{14}{16}\selectfont,
    nodes={inner sep=0pt, text height=10pt, text depth=3.5pt},
    /tikz/every odd column/.append style={column sep=8pt}},
  legend image code/.code={\draw[#1] (0pt,0pt) -- (22pt,0pt);}]
\addlegendimage{color=f2red, line width=1.2pt, dash pattern=on 8pt off 5pt}
\addlegendentry{F\textsubscript{2}\ \ H1 PDF 2000}
\end{axis}
\end{tikzpicture}
\end{document}
